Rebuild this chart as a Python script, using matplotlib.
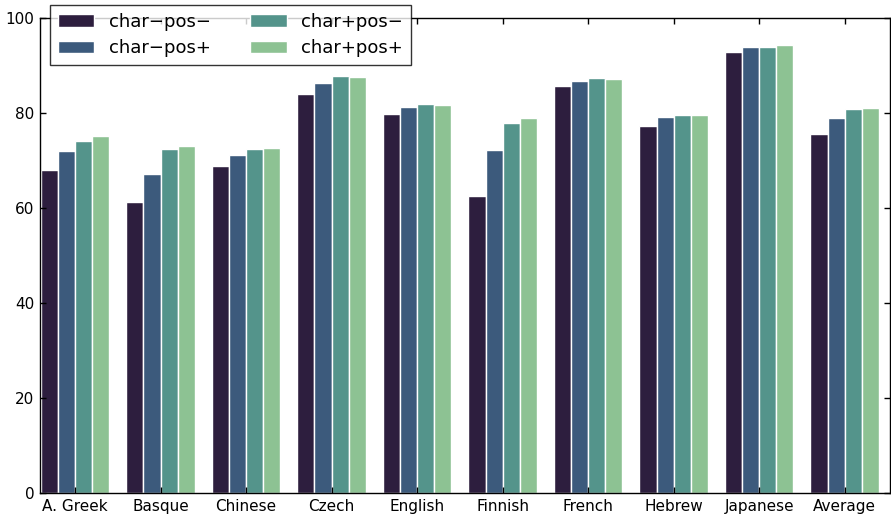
import matplotlib
matplotlib.use("Agg")
import matplotlib.pyplot as plt
import numpy as np

languages = ["A. Greek", "Basque", "Chinese", "Czech", "English",
             "Finnish", "French", "Hebrew", "Japanese", "Average"]
series_names = ["char\u2212pos\u2212", "char\u2212pos+", "char+pos\u2212", "char+pos+"]

char_minus_pos_minus = [68.0, 61.2, 68.8, 84.0, 79.7, 62.5, 85.7, 77.2, 92.8, 75.6]
char_minus_pos_plus = [71.9, 67.1, 71.2, 86.3, 81.2, 72.2, 86.8, 79.1, 94.0, 78.9]
char_plus_pos_minus = [74.1, 72.5, 72.4, 87.8, 81.9, 77.9, 87.3, 79.6, 93.8, 80.8]
char_plus_pos_plus = [75.1, 73.0, 72.6, 87.6, 81.7, 78.9, 87.2, 79.6, 94.3, 81.1]

series = [char_minus_pos_minus, char_minus_pos_plus,
          char_plus_pos_minus, char_plus_pos_plus]
colors = ["#2d1e3e", "#3c5a7c", "#54948b", "#8dc293"]

y_ticks = [0, 20, 40, 60, 80, 100]

fig = plt.figure(figsize=(8.91, 5.17), dpi=100)
ax = fig.add_axes([40 / 891, 24 / 517, 850 / 891, 475 / 517])

bar_w = 0.2
x = np.arange(len(languages))
for j, (vals, name, c) in enumerate(zip(series, series_names, colors)):
    ax.bar(x + 0.01 + j * bar_w, vals, width=bar_w, align="edge", color=c,
           edgecolor="white", linewidth=1.0, label=name)

ax.set_xlim(0, 9.94)
ax.set_ylim(0, 100)
ax.set_xticks(x + 0.41)
ax.set_xticklabels(languages, fontsize=11)
ax.set_yticks(y_ticks)
ax.set_yticklabels([str(t) for t in y_ticks], fontsize=11)
ax.tick_params(direction="in", length=4, width=1, top=True, right=True,
               color="black", pad=4)
for s in ax.spines.values():
    s.set_linewidth(1.0)
    s.set_color("black")

leg = ax.legend(loc="upper left", bbox_to_anchor=(50 / 891, 512 / 517),
                bbox_transform=fig.transFigure, ncol=2, fontsize=13,
                frameon=True, fancybox=False, borderaxespad=0,
                handlelength=2.0, handleheight=0.7, handletextpad=0.8,
                columnspacing=2.2, labelspacing=0.45, borderpad=0.45)
leg.get_frame().set_edgecolor("black")
leg.get_frame().set_linewidth(1.0)
leg.set_zorder(10)

fig.savefig("out.png", dpi=100)
